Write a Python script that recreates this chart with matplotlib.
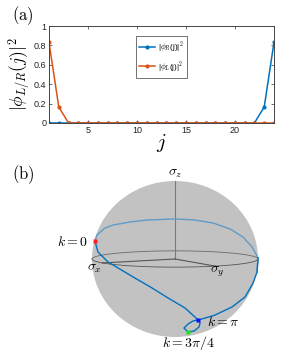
import numpy as np
import matplotlib
matplotlib.use('Agg')
import matplotlib.pyplot as plt
from matplotlib.patches import Circle

plt.rcParams['mathtext.fontset'] = 'cm'
plt.rcParams['font.family'] = ['Liberation Sans', 'DejaVu Sans']

# (a) 边缘态分布
j = np.arange(1, 25)
phi_R = [0, 0, 0, 0, 0, 0, 0, 0, 0, 0, 0, 0, 0, 0, 0, 0, 0, 0, 0, 0, 0, 0, 0.165, 0.832]
phi_L = [0.832, 0.165, 0, 0, 0, 0, 0, 0, 0, 0, 0, 0, 0, 0, 0, 0, 0, 0, 0, 0, 0, 0, 0, 0]

# (b) Bloch 球上的轨迹
bloch_x = [0.832, 0.737, 0.543, 0.390, 0.116, -0.115, -0.440, -0.637, -0.790, -0.910, -0.971, -0.983,
           -0.876, -0.856, -0.737, -0.603, -0.384, -0.143, 0.020, 0.066, 0.124, 0.160, 0.169, 0.062,
           -0.004, -0.018, 0.012, 0.066, 0.128, 0.298, 0.514, 0.688, 0.840, 0.953, 0.992, 0.982, 0.832]
bloch_y = [-0.489, -0.610, -0.760, -0.839, -0.910, -0.903, -0.793, -0.653, -0.481, -0.273, -0.063, 0.141,
           0.484, 0.494, 0.610, 0.652, 0.725, 0.737, 0.706, 0.691, 0.671, 0.613, 0.527, 0.436,
           0.465, 0.564, 0.643, 0.691, 0.728, 0.785, 0.755, 0.671, 0.521, 0.302, 0.125, -0.143, -0.489]
bloch_z = [0.230, 0.291, 0.357, 0.381, 0.399, 0.414, 0.421, 0.410, 0.380, 0.316, 0.228, 0.118,
           0.013, -0.166, -0.291, -0.461, -0.571, -0.662, -0.707, -0.719, -0.731, -0.773, -0.833, -0.898,
           -0.886, -0.826, -0.766, -0.719, -0.675, -0.544, -0.407, -0.277, -0.155, -0.039, 0.024, 0.127, 0.230]
k_labels = [r'$k=0$', r'$k=\pi$', r'$k=3\pi/4$']
k_index = [0, 19, 23]
k_colors = ['#ff2020', '#1010ff', '#20e020']

blue = '#0072BD'
orange = '#D95319'

fig = plt.figure(figsize=(2.91, 3.6), dpi=100)

# ---------- (a) ----------
ax = fig.add_axes([49/291, 1-123/360, 225/291, 97/360])
ax.plot(j, phi_R, '.-', color=blue, lw=1.1, ms=4, label=r'|$\phi_R$(j)|$^2$')
ax.plot(j, phi_L, '.-', color=orange, lw=1.1, ms=4, label=r'|$\phi_L$(j)|$^2$')
ax.set_xlim(1, 24)
ax.set_ylim(0, 1)
ax.set_xticks([5, 10, 15, 20])
ax.set_yticks([0, 0.2, 0.4, 0.6, 0.8, 1])
ax.set_yticklabels(['0', '0.2', '0.4', '0.6', '0.8', '1'])
ax.tick_params(direction='in', length=2.5, width=0.5, labelsize=6.5, pad=2, top=True, right=True,
               colors='#333333', labelcolor='#222222')
for s in ax.spines.values():
    s.set_linewidth(0.7)
    s.set_color('#444444')
ax.set_xlabel(r'$j$', fontsize=15, labelpad=-2)
ax.set_ylabel(r'$|\phi_{L/R}(j)|^2$', fontsize=12.5, labelpad=1)
leg = ax.legend(loc='upper center', bbox_to_anchor=(0.5, 0.9), fontsize=5.8, frameon=True,
                fancybox=False, edgecolor='#333333', handlelength=2.0, borderpad=0.45, labelspacing=0.6,
                handletextpad=0.3, borderaxespad=0)
leg.get_frame().set_linewidth(0.6)

fig.text(12/291, 1-16/360, r'$\mathrm{(a)}$', fontsize=12, va='center')
fig.text(12/291, 1-175/360, r'$\mathrm{(b)}$', fontsize=12, va='center')

# ---------- (b) ----------
ax2 = fig.add_axes([0, 0, 1, 210/360])
ax2.set_xlim(-175/83, (291-175)/83)
ax2.set_ylim((259-360)/78, (259-150)/78)
ax2.axis('off')

az = np.deg2rad(29)
el = np.deg2rad(6)
r_vec = np.array([-np.cos(az), np.sin(az), 0])
h_vec = np.array([np.sin(az), np.cos(az), 0])
n_vec = np.cos(el)*h_vec + np.array([0, 0, np.sin(el)])
u_vec = -np.sin(el)*h_vec + np.array([0, 0, np.cos(el)])

def project(x, y, z):
    p = np.vstack([np.asarray(x, float), np.asarray(y, float), np.asarray(z, float)])
    return r_vec @ p, u_vec @ p, n_vec @ p

ax2.add_patch(Circle((0, 0), 1, facecolor='#c2c2c2', edgecolor='none', zorder=1))

# 赤道
t = np.linspace(0, 2*np.pi, 400)
U, V, D = project(np.cos(t), np.sin(t), np.zeros_like(t))
ax2.plot(np.where(D < 0, U, np.nan), np.where(D < 0, V, np.nan), color='#6a6a6a', lw=0.6, zorder=2)
ax2.plot(np.where(D >= 0, U, np.nan), np.where(D >= 0, V, np.nan), color='#555555', lw=0.6, zorder=3)

# 坐标轴
for end, c in [((0, 0, 1), '#7a7a7a'), ((1, 0, 0), '#555555'), ((0, 1, 0), '#555555')]:
    U, V, D = project([0, end[0]], [0, end[1]], [0, end[2]])
    ax2.plot(U, V, color=c, lw=0.8, zorder=3)

ax2.text(0, 1.10, r'$\sigma_z$', fontsize=10, ha='center', va='center')
ax2.text(-0.964, -0.12, r'$\sigma_x$', fontsize=10, ha='center', va='center')
ax2.text(0.51, -0.17, r'$\sigma_y$', fontsize=10, ha='center', va='center')

# 轨迹
U, V, D = project(bloch_x, bloch_y, bloch_z)
ax2.plot(np.where(D < 0.05, U, np.nan), np.where(D < 0.05, V, np.nan), color='#5f9bc9', lw=1.0, zorder=4)
ax2.plot(np.where(D > -0.05, U, np.nan), np.where(D > -0.05, V, np.nan), color=blue, lw=1.0, zorder=5)

for i, c in zip(k_index, k_colors):
    ax2.plot(U[i], V[i], 's', color=c, ms=3, mec='none', zorder=6)

ax2.text(-1.04, 0.22, k_labels[0], fontsize=10, ha='right', va='center')
ax2.text(0.39, -0.81, k_labels[1], fontsize=10, ha='left', va='center')
ax2.text(0.17, -1.08, k_labels[2], fontsize=10, ha='center', va='center')

fig.savefig('out.png', dpi=100)
